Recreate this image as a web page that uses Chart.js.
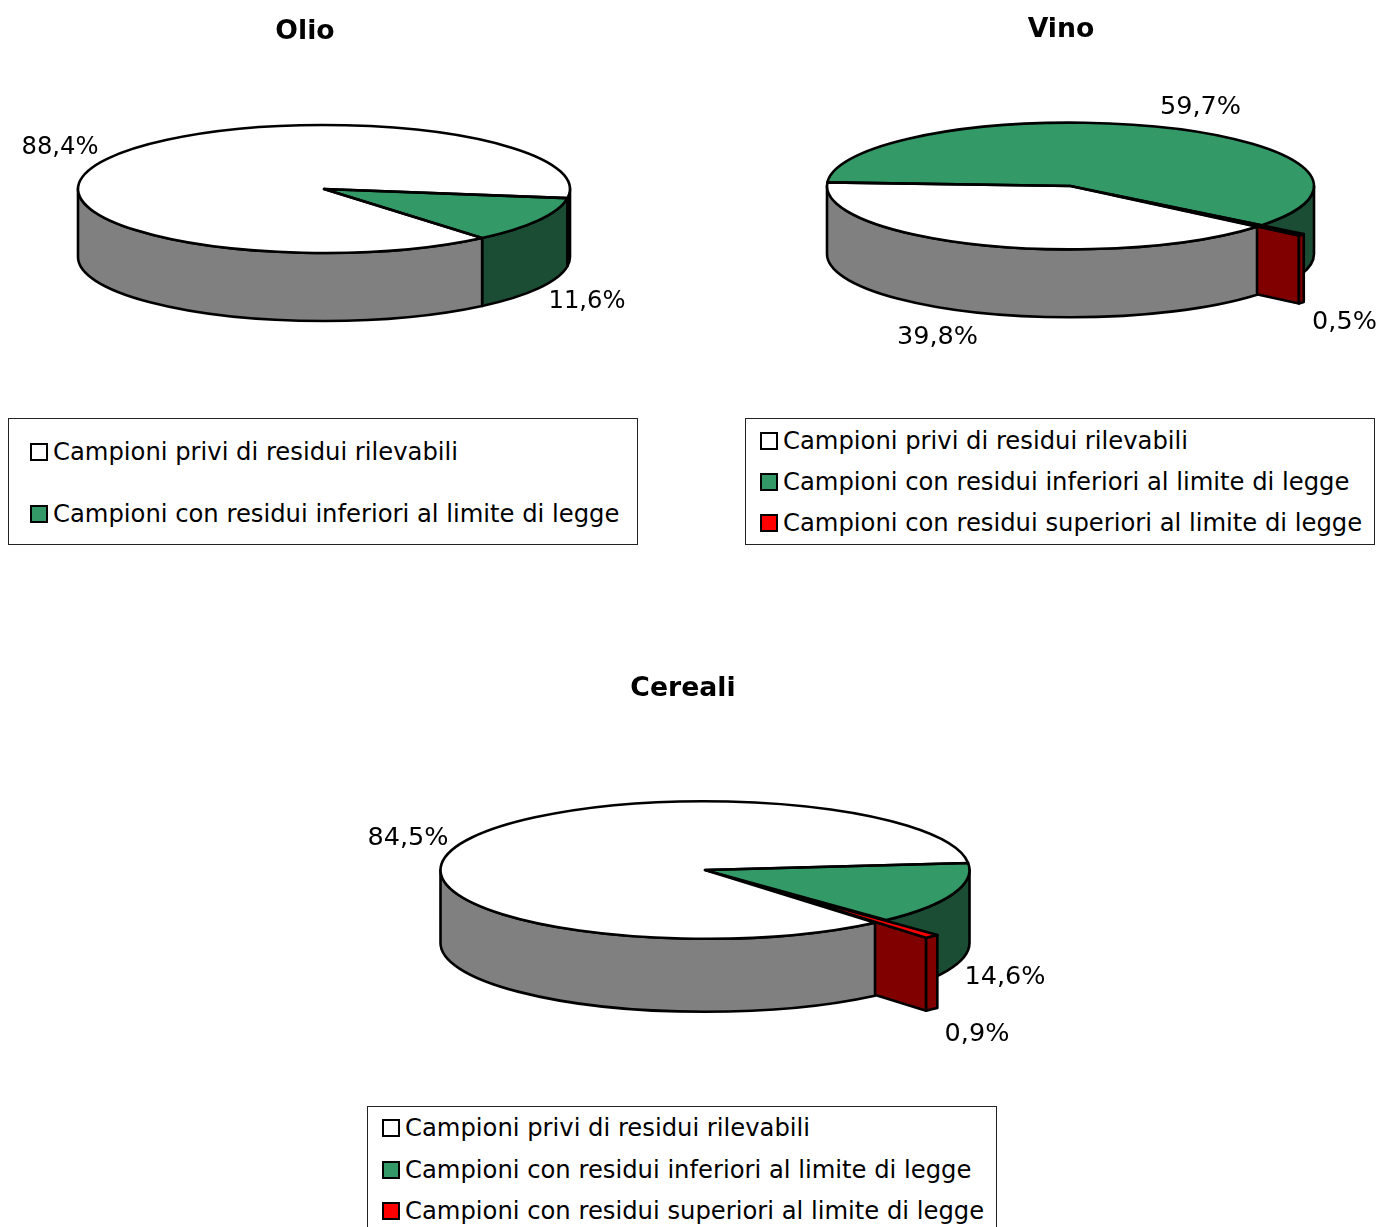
<!DOCTYPE html>
<html lang="it">
<head>
<meta charset="utf-8">
<title>Residui</title>
<script src="https://cdn.jsdelivr.net/npm/chart.js@4/dist/chart.umd.js"></script>
<style>
    html, body { margin: 0; background: #fff; }
    body { position: relative; width: 1380px; height: 1227px; overflow: hidden; font-family: "DejaVu Sans", sans-serif; color: #000; }
    canvas { position: absolute; }
    .title { position: absolute; font-weight: bold; font-size: 26.7px; line-height: 30px; transform: translateX(-50%); white-space: nowrap; }
    .legend { position: absolute; box-sizing: border-box; border: 1px solid #222; }
    .row { position: absolute; font-size: 24.25px; line-height: 30px; white-space: nowrap; transform: translateY(-50%); }
    .swatch { position: absolute; box-sizing: border-box; width: 18px; height: 18px; border: 2.5px solid #000; transform: translateY(-50%); }
</style>
</head>
<body>
<canvas id="olio" width="648" height="378" style="left:0;top:0"></canvas>
<canvas id="vino" width="619" height="372" style="left:761px;top:0"></canvas>
<canvas id="cereali" width="800" height="400" style="left:304.5px;top:669.5px"></canvas>
<script>
    const categories = [
        'Campioni privi di residui rilevabili',
        'Campioni con residui inferiori al limite di legge',
        'Campioni con residui superiori al limite di legge'
    ];
    const olioValues = [88.4, 11.6];
    const vinoValues = [39.8, 59.7, 0.5];
    const cerealiValues = [84.5, 14.6, 0.9];

    const topColors = ['#ffffff', '#339966', '#ff0000'];
    const wallColors = ['#808080', '#1a4d33', '#800000'];

    const LINE_WIDTH = 2.6;

    // le fette si dipingono da dietro in avanti: verde, rossa, bianca
    const paintOrder = [1, 2, 0];

    function formatPercent(value) {
        return value.toFixed(1).replace('.', ',') + '%';
    }

    function pieCenter(chart) {
        const area = chart.chartArea;
        return { x: (area.left + area.right) / 2, y: (area.top + area.bottom) / 2 };
    }

    // centro della fetta sul piano schiacciato
    function sliceCenter(arc, pie, squash) {
        return { x: arc.x, y: pie.y + (arc.y - pie.y) * squash };
    }

    function setLineStyle(ctx) {
        ctx.strokeStyle = '#000';
        ctx.lineWidth = LINE_WIDTH;
        ctx.lineJoin = 'round';
    }

    function paintShape(ctx, color) {
        ctx.fillStyle = color;
        ctx.fill();
        ctx.stroke();
    }

    // bordo esterno: solo la parte della fetta rivolta verso chi guarda
    function drawRim(ctx, arc, center, squash, depth, color) {
        const r = arc.outerRadius;
        for (let turn = -1; turn <= 2; turn++) {
            const base = turn * Math.PI * 2;
            const from = Math.max(arc.startAngle, base);
            const to = Math.min(arc.endAngle, base + Math.PI);
            if (from >= to) continue;
            ctx.beginPath();
            ctx.ellipse(center.x, center.y, r, r * squash, 0, from, to);
            ctx.ellipse(center.x, center.y + depth, r, r * squash, 0, to, from, true);
            ctx.closePath();
            paintShape(ctx, color);
        }
    }

    // faccia radiale sul lato dell'angolo finale
    function drawEndFace(ctx, arc, center, squash, depth, color) {
        const rimX = center.x + Math.cos(arc.endAngle) * arc.outerRadius;
        const rimY = center.y + Math.sin(arc.endAngle) * arc.outerRadius * squash;
        ctx.beginPath();
        ctx.moveTo(center.x, center.y);
        ctx.lineTo(rimX, rimY);
        ctx.lineTo(rimX, rimY + depth);
        ctx.lineTo(center.x, center.y + depth);
        ctx.closePath();
        paintShape(ctx, color);
    }

    const pie3d = {
        id: 'pie3d',
        // l'opzione offset di Chart.js deforma le fette sottili, quindi si spostano gli archi
        afterDatasetsUpdate(chart, args, options) {
            chart.getDatasetMeta(0).data.forEach((arc, i) => {
                const mid = (arc.startAngle + arc.endAngle) / 2;
                arc.x += Math.cos(mid) * options.explode[i];
                arc.y += Math.sin(mid) * options.explode[i];
            });
        },
        beforeDatasetsDraw(chart, args, options) {
            const ctx = chart.ctx;
            const arcs = chart.getDatasetMeta(0).data;
            const pie = pieCenter(chart);
            const squash = options.squash;
            ctx.save();
            setLineStyle(ctx);
            paintOrder.forEach(i => {
                const arc = arcs[i];
                if (!arc) return;
                const center = sliceCenter(arc, pie, squash);
                if (options.explode[i] > 0 || options.explode[i + 1] > 0) {
                    drawEndFace(ctx, arc, center, squash, options.depth, wallColors[i]);
                }
                drawRim(ctx, arc, center, squash, options.depth, wallColors[i]);
            });
            ctx.restore();

            // Chart.js riempie le fette sul piano schiacciato
            ctx.save();
            ctx.translate(pie.x, pie.y);
            ctx.scale(1, squash);
            ctx.translate(-pie.x, -pie.y);
        },
        afterDatasetsDraw(chart, args, options) {
            const ctx = chart.ctx;
            const arcs = chart.getDatasetMeta(0).data;
            const pie = pieCenter(chart);
            const squash = options.squash;
            ctx.restore();

            ctx.save();
            setLineStyle(ctx);
            arcs.forEach(arc => {
                const center = sliceCenter(arc, pie, squash);
                ctx.beginPath();
                ctx.moveTo(center.x, center.y);
                ctx.ellipse(center.x, center.y, arc.outerRadius, arc.outerRadius * squash, 0, arc.startAngle, arc.endAngle);
                ctx.closePath();
                ctx.stroke();
            });

            ctx.fillStyle = '#000';
            ctx.font = options.labelSize + 'px "DejaVu Sans"';
            ctx.textAlign = 'center';
            ctx.textBaseline = 'middle';
            chart.data.datasets[0].data.forEach((value, i) => {
                const pos = options.labelPositions[i];
                ctx.fillText(formatPercent(value), pie.x + pos[0], pie.y + pos[1]);
            });
            ctx.restore();
        }
    };

    function drawPie(id, values, radius, rotation, explode, depth, labelSize, labelPositions) {
        return new Chart(document.getElementById(id), {
            type: 'pie',
            data: {
                labels: categories.slice(0, values.length),
                datasets: [{
                    data: values,
                    backgroundColor: topColors,
                    borderWidth: 0,
                    clip: false
                }]
            },
            options: {
                responsive: false,
                animation: false,
                events: [],
                radius: radius,
                rotation: rotation,
                plugins: {
                    legend: { display: false },
                    title: { display: false },
                    tooltip: { enabled: false },
                    pie3d: { squash: 0.26, depth: depth, explode: explode, labelSize: labelSize, labelPositions: labelPositions }
                }
            },
            plugins: [pie3d]
        });
    }

    function addTitle(text, centerX, top) {
        const el = document.createElement('div');
        el.className = 'title';
        el.textContent = text;
        el.style.left = centerX + 'px';
        el.style.top = top + 'px';
        document.body.appendChild(el);
    }

    function addLegend(count, left, top, height, swatchX, firstRow, rowStep) {
        const box = document.createElement('div');
        box.className = 'legend';
        box.style.left = left + 'px';
        box.style.top = top + 'px';
        box.style.width = '630px';
        box.style.height = height + 'px';
        document.body.appendChild(box);
        for (let i = 0; i < count; i++) {
            const y = firstRow + i * rowStep;
            const swatch = document.createElement('div');
            swatch.className = 'swatch';
            swatch.style.left = swatchX + 'px';
            swatch.style.top = y + 'px';
            swatch.style.background = topColors[i];
            document.body.appendChild(swatch);

            const row = document.createElement('div');
            row.className = 'row';
            row.textContent = categories[i];
            row.style.left = (swatchX + 23) + 'px';
            row.style.top = y + 'px';
            document.body.appendChild(row);
        }
    }

    drawPie('olio', olioValues, 246, 140, [0, 0], 68, 24.25, [[-264, -41], [263, 113]]);
    drawPie('vino', vinoValues, 243.5, 130, [0, 0, 54], 68, 25.5, [[-133, 151], [130, -79], [274, 136]]);
    drawPie('cereali', cerealiValues, 264.5, 140, [0, 0, 77], 73, 25.5, [[-297, -32], [300, 107], [272, 164]]);

    addTitle('Olio', 305, 15);
    addTitle('Vino', 1061, 13);
    addTitle('Cereali', 683, 672);

    addLegend(olioValues.length, 8, 418, 127, 30, 452, 61.5);
    addLegend(vinoValues.length, 745, 418, 127, 760, 441, 41);
    addLegend(cerealiValues.length, 367, 1106, 130, 382, 1128, 41.5);
</script>
</body>
</html>
